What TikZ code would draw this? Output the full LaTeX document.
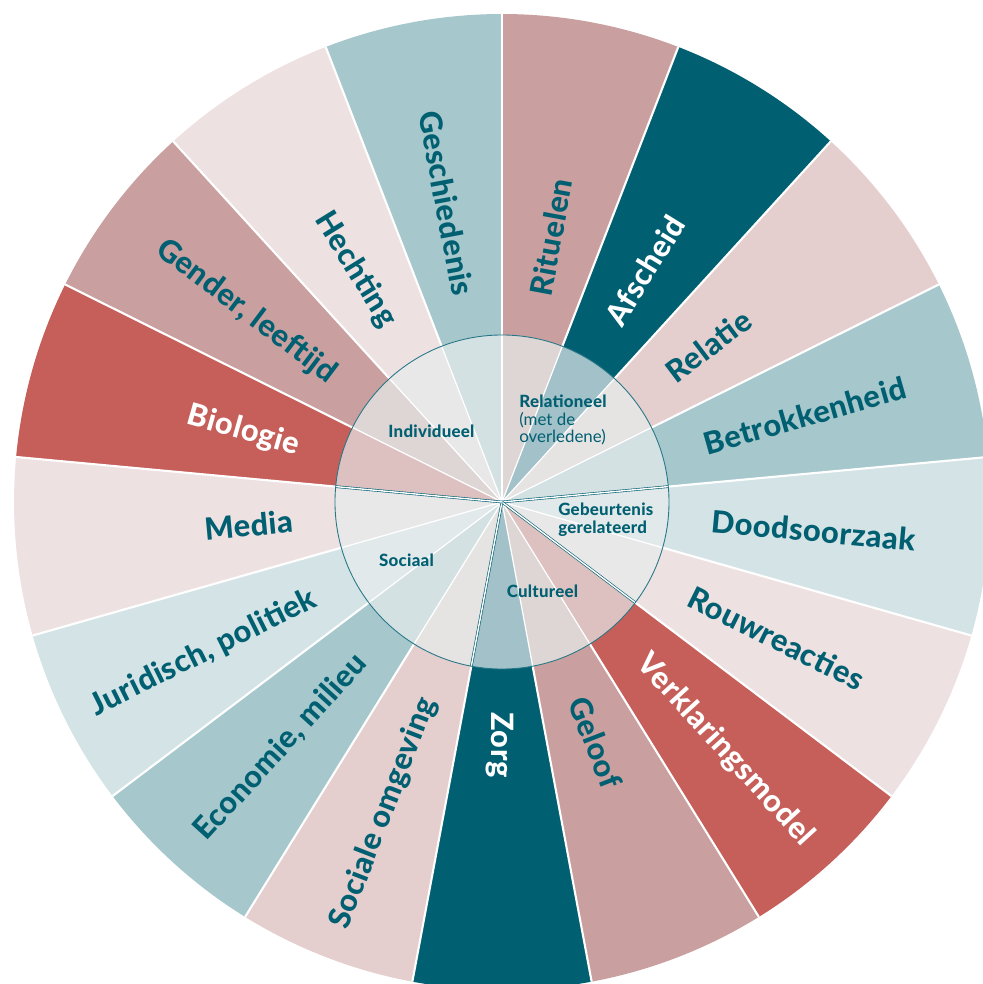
\documentclass[tikz,border=0pt]{standalone}
\usepackage{fontspec}
\setmainfont{Lato}
\newfontfamily\vakfont{Lato Heavy}[LetterSpace=1.5]

\definecolor{rouwteal}{HTML}{005F71}
\definecolor{tealmid}{HTML}{A6C8CC}
\definecolor{teallight}{HTML}{D4E4E6}
\definecolor{rosemid}{HTML}{C9A09F}
\definecolor{roselight}{HTML}{E4CECE}
\definecolor{rosepale}{HTML}{EEE1E2}
\definecolor{rouwred}{HTML}{C65E59}
\definecolor{kernfill}{HTML}{E8ECED}

\tikzset{
	vaklabel/.style = {font=\vakfont\fontsize{17.5}{20}\selectfont, inner sep=0pt,
		text height=12.5pt, text depth=0pt},
	kernlabel/.style = {font=\vakfont\fontsize{9.6}{10.2}\selectfont, text=rouwteal,
		inner sep=0pt, align=left},
	scheiding/.style = {white, line width=1.2pt},
	groepslijn/.style = {draw=rouwteal, line width=0.35pt, double=white,
		double distance=0.8pt},
}

\newcommand{\Rbuiten}{9.76}
\newcommand{\Rkern}{3.34}

% #1 nummer, #2 vulkleur, #3 tekstkleur, #4 naam, #5 tekst
\newcommand{\vak}[5]{%
	\pgfmathsetmacro{\va}{90-(#1-1)*360/17}
	\pgfmathsetmacro{\vb}{90-#1*360/17}
	\pgfmathsetmacro{\vm}{90-(#1-0.5)*360/17}
	\fill[#2] (0,0) -- (\va:\Rbuiten) arc[start angle=\va, end angle=\vb, radius=\Rbuiten] -- cycle;
	\ifnum#1<10
		\node[vaklabel, text=#3, anchor=west, rotate=\vm] (#4) at (\vm:4.2) {#5};
	\else
		\pgfmathsetmacro{\vr}{\vm+180}
		\node[vaklabel, text=#3, anchor=east, rotate=\vr] (#4) at (\vm:4.2) {#5};
	\fi
}

\begin{document}
\begin{tikzpicture}
	\useasboundingbox (-10.04,-9.64) rectangle (9.62,10.04);
	\clip (-10.04,-9.64) rectangle (9.62,10.04);

	\vak{1}{rosemid}{rouwteal}{rituelen}{Rituelen}
	\vak{2}{rouwteal}{white}{afscheid}{Afscheid}
	\vak{3}{roselight}{rouwteal}{relatie}{Relatie}
	\vak{4}{tealmid}{rouwteal}{betrokkenheid}{Betrokkenheid}
	\vak{5}{teallight}{rouwteal}{doodsoorzaak}{Doodsoorzaak}
	\vak{6}{rosepale}{rouwteal}{rouwreacties}{Rouwreacties}
	\vak{7}{rouwred}{white}{verklaring}{Verklaringsmodel}
	\vak{8}{rosemid}{rouwteal}{geloof}{Geloof}
	\vak{9}{rouwteal}{white}{zorg}{Zorg}
	\vak{10}{roselight}{rouwteal}{omgeving}{Sociale omgeving}
	\vak{11}{tealmid}{rouwteal}{economie}{Economie, milieu}
	\vak{12}{teallight}{rouwteal}{juridisch}{Juridisch, politiek}
	\vak{13}{rosepale}{rouwteal}{media}{Media}
	\vak{14}{rouwred}{white}{biologie}{Biologie}
	\vak{15}{rosemid}{rouwteal}{gender}{Gender, leeftijd}
	\vak{16}{rosepale}{rouwteal}{hechting}{Hechting}
	\vak{17}{tealmid}{rouwteal}{geschiedenis}{Geschiedenis}

	% kern: lichte laag over de vakken
	\fill[kernfill, opacity=0.7] (0,0) circle (\Rkern);

	\foreach \k in {0,...,16}{
		\draw[scheiding] ({90-\k*360/17}:\Rkern) -- ({90-\k*360/17}:\Rbuiten);
		\draw[scheiding, line width=0.7pt] (0,0) -- ({90-\k*360/17}:\Rkern);
	}
	\foreach \k in {0,4,6,9,13}
		\draw[groepslijn] (0,0) -- ({90-\k*360/17}:\Rkern);
	\draw[rouwteal!85, line width=0.5pt] (0,0) circle (\Rkern);

	\node[kernlabel] (individueel) at (-1.41,1.41) {Individueel};
	\node[kernlabel, anchor=west] (relationeel) at (0.34,1.64)
		{Relationeel\\\normalfont\fontsize{9.6}{10.2}\selectfont(met de\\\normalfont\fontsize{9.6}{10.2}\selectfont overledene)};
	\node[kernlabel, anchor=west] (gebeurtenis) at (1.12,-0.35) {Gebeurtenis\\gerelateerd};
	\node[kernlabel] (sociaal) at (-1.91,-1.16) {Sociaal};
	\node[kernlabel] (cultureel) at (0.81,-1.79) {Cultureel};
\end{tikzpicture}
\end{document}
